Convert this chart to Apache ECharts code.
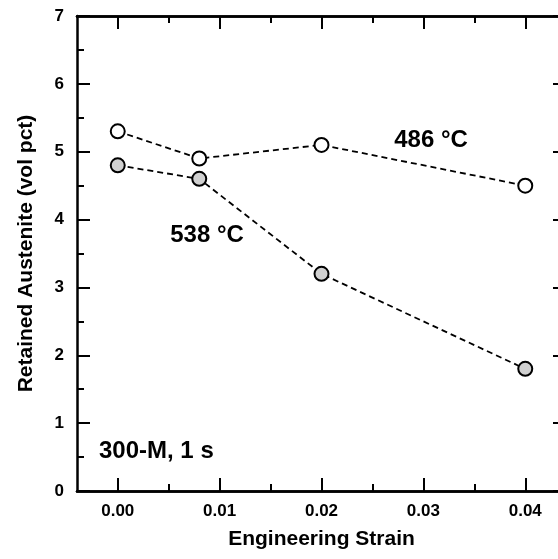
<!DOCTYPE html>
<html>
<head>
<meta charset="utf-8">
<script src="https://cdn.jsdelivr.net/npm/echarts@6/dist/echarts.min.js"></script>
<style>
  html, body { margin: 0; padding: 0; background: #fff; }
  #chart { width: 558px; height: 559px; }
</style>
</head>
<body>
<div id="chart"></div>
<script>
const strain486 = [0.0, 0.008, 0.02, 0.04];
const austenite486 = [5.3, 4.9, 5.1, 4.5];
const strain538 = [0.0, 0.008, 0.02, 0.04];
const austenite538 = [4.8, 4.6, 3.2, 1.8];
const xMajorTicks = [0.00, 0.01, 0.02, 0.03, 0.04];
const xMinorTicks = [0.005, 0.015, 0.025, 0.035];

const FONT = "'Liberation Sans', Arial, Helvetica, sans-serif";
const chart = echarts.init(document.getElementById('chart'));

function pairs(xs, ys) {
    return xs.map((x, i) => [x, ys[i]]);
}

function xAxisDef(position, ticks, len, opts) {
    return Object.assign({
        type: 'value',
        position: position,
        min: -0.004,
        max: 0.044,
        axisLine: { show: true, onZero: false, lineStyle: { color: '#000', width: 2.5 } },
        axisTick: { show: true, inside: true, length: len, customValues: ticks, lineStyle: { color: '#000', width: 2 } },
        axisLabel: { show: false },
        splitLine: { show: false }
    }, opts || {});
}

function yAxisDef(position, opts) {
    return Object.assign({
        type: 'value',
        position: position,
        min: 0,
        max: 7,
        interval: 1,
        axisLine: { show: true, onZero: false, lineStyle: { color: '#000', width: 2.5 } },
        axisTick: { show: true, inside: true, length: 13, lineStyle: { color: '#000', width: 2 } },
        minorTick: { show: true, splitNumber: 2, length: 7, lineStyle: { color: '#000', width: 2 } },
        axisLabel: { show: false },
        splitLine: { show: false }
    }, opts || {});
}

const options = {
    animation: false,
    backgroundColor: '#fff',
    // right edge of the frame sits past the window, like the cropped original
    grid: { left: 77, top: 16, width: 489, height: 475, outerBoundsMode: 'none', containLabel: false },
    xAxis: [
        xAxisDef('bottom', xMajorTicks, 13, {
            name: 'Engineering Strain',
            nameLocation: 'middle',
            nameGap: 38,
            nameTextStyle: { fontFamily: FONT, fontWeight: 'bold', fontSize: 21, color: '#000' },
            axisLabel: {
                show: true,
                customValues: xMajorTicks,
                margin: 12,
                fontFamily: FONT,
                fontWeight: 'bold',
                fontSize: 17,
                color: '#000',
                formatter: (v) => v.toFixed(2)
            }
        }),
        xAxisDef('bottom', xMinorTicks, 7),
        xAxisDef('top', xMajorTicks, 13),
        xAxisDef('top', xMinorTicks, 7)
    ],
    yAxis: [
        yAxisDef('left', {
            name: 'Retained Austenite (vol pct)',
            nameLocation: 'middle',
            nameGap: 40,
            nameTextStyle: { fontFamily: FONT, fontWeight: 'bold', fontSize: 21, color: '#000' },
            axisLabel: {
                show: true,
                margin: 13,
                fontFamily: FONT,
                fontWeight: 'bold',
                fontSize: 17,
                color: '#000'
            }
        }),
        yAxisDef('right')
    ],
    graphic: [
        { type: 'text', x: 431, y: 140, style: { text: '486 °C', font: 'bold 24px ' + FONT, fill: '#000', textAlign: 'center', textVerticalAlign: 'middle' } },
        { type: 'text', x: 207, y: 235, style: { text: '538 °C', font: 'bold 24px ' + FONT, fill: '#000', textAlign: 'center', textVerticalAlign: 'middle' } },
        { type: 'text', x: 99, y: 451, style: { text: '300-M, 1 s', font: 'bold 24px ' + FONT, fill: '#000', textAlign: 'left', textVerticalAlign: 'middle' } }
    ],
    series: [
        {
            name: '486 °C',
            type: 'line',
            data: pairs(strain486, austenite486),
            symbol: 'circle',
            symbolSize: 14,
            itemStyle: { color: '#ffffff', borderColor: '#000', borderWidth: 2 },
            lineStyle: { color: '#000', width: 1.8, type: [6, 4] }
        },
        {
            name: '538 °C',
            type: 'line',
            data: pairs(strain538, austenite538),
            symbol: 'circle',
            symbolSize: 14,
            itemStyle: { color: '#d0d0d0', borderColor: '#000', borderWidth: 2 },
            lineStyle: { color: '#000', width: 1.8, type: [6, 4] }
        }
    ]
};

chart.setOption(options);
</script>
</body>
</html>
